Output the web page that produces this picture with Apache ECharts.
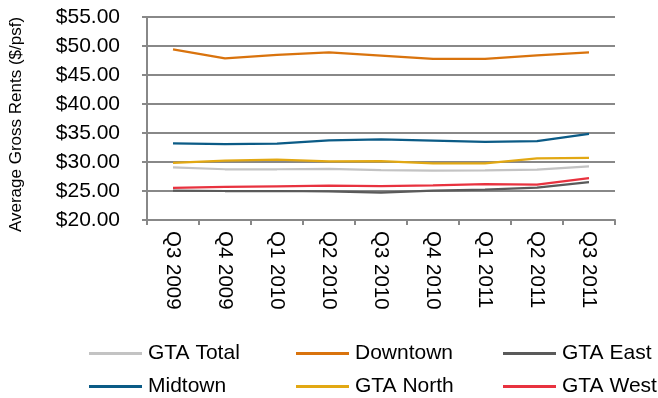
<!DOCTYPE html>
<html>
<head>
<meta charset="utf-8">
<script src="https://cdn.jsdelivr.net/npm/echarts@6/dist/echarts.min.js"></script>
<style>
  html, body { margin: 0; padding: 0; background: #fff; }
  #chart { width: 658px; height: 398px; }
</style>
</head>
<body>
<div id="chart"></div>
<script>
// Quarterly average gross rents by submarket ($/psf)
const quarters = ['Q3 2009', 'Q4 2009', 'Q1 2010', 'Q2 2010', 'Q3 2010', 'Q4 2010', 'Q1 2011', 'Q2 2011', 'Q3 2011'];

const gtaTotal = [29.08, 28.75, 28.75, 28.80, 28.62, 28.50, 28.56, 28.68, 29.25];
const downtown = [49.43, 47.87, 48.45, 48.88, 48.33, 47.76, 47.76, 48.40, 48.90];
const gtaEast  = [25.06, 25.00, 25.00, 24.95, 24.72, 25.06, 25.23, 25.57, 26.55];
const midtown  = [33.22, 33.10, 33.16, 33.74, 33.90, 33.68, 33.45, 33.60, 34.83];
const gtaNorth = [29.83, 30.23, 30.40, 30.10, 30.17, 29.77, 29.77, 30.63, 30.69];
const gtaWest  = [25.52, 25.69, 25.80, 25.92, 25.86, 25.98, 26.20, 26.10, 27.20];

const yTicks = [20, 25, 30, 35, 40, 45, 50, 55];

const FONT = 'Liberation Sans, Arial, sans-serif';

const seriesDefs = [
  { name: 'GTA Total', data: gtaTotal, color: '#c3c3c3' },
  { name: 'Downtown',  data: downtown, color: '#d9730d' },
  { name: 'GTA East',  data: gtaEast,  color: '#5a5a5a' },
  { name: 'Midtown',   data: midtown,  color: '#0b5b86' },
  { name: 'GTA North', data: gtaNorth, color: '#e2a813' },
  { name: 'GTA West',  data: gtaWest,  color: '#e8323f' }
];

// legend layout: 3 columns x 2 rows
const legendCols = [89, 296, 503];
const legendRows = [343, 376];

const chart = echarts.init(document.getElementById('chart'), null, { renderer: 'canvas' });

chart.setOption({
  animation: false,
  backgroundColor: '#ffffff',
  grid: { left: 139, right: 43, top: 17, bottom: 178, containLabel: false },
  legend: seriesDefs.map((s, i) => ({
    data: [s.name],
    left: legendCols[i % 3],
    top: legendRows[Math.floor(i / 3)],
    icon: 'rect',
    itemWidth: 53,
    itemHeight: 3,
    itemGap: 0,
    textStyle: { fontFamily: FONT, fontSize: 21, color: '#000', padding: [0, 0, 0, 1] },
    padding: 0
  })),
  xAxis: {
    type: 'category',
    data: quarters,
    boundaryGap: true,
    axisLine: { lineStyle: { color: '#888888', width: 2 } },
    axisTick: { show: true, alignWithLabel: false, length: 5, lineStyle: { color: '#888888', width: 2 } },
    axisLabel: {
      rotate: -90,
      fontFamily: FONT,
      fontSize: 20.5,
      color: '#000',
      margin: 11,
      interval: 0
    },
    splitLine: { show: false }
  },
  yAxis: {
    type: 'value',
    min: yTicks[0],
    max: yTicks[yTicks.length - 1],
    interval: 5,
    name: 'Average Gross Rents ($/psf)',
    nameLocation: 'middle',
    nameRotate: 90,
    nameGap: 122,
    nameTextStyle: { fontFamily: FONT, fontSize: 17, color: '#000', padding: [0, 12, 0, 0] },
    axisLine: { show: true, lineStyle: { color: '#888888', width: 2 } },
    axisTick: { show: true, length: 5, lineStyle: { color: '#888888', width: 2 } },
    axisLabel: {
      fontFamily: FONT,
      fontSize: 21,
      color: '#000',
      margin: 27,
      formatter: v => '$' + v.toFixed(2)
    },
    splitLine: { show: true, lineStyle: { color: '#888888', width: 2 } }
  },
  series: seriesDefs.map(s => ({
    name: s.name,
    type: 'line',
    data: s.data,
    symbol: 'none',
    smooth: false,
    lineStyle: { color: s.color, width: 2.25 },
    itemStyle: { color: s.color },
    emphasis: { disabled: true }
  }))
});
</script>
</body>
</html>
